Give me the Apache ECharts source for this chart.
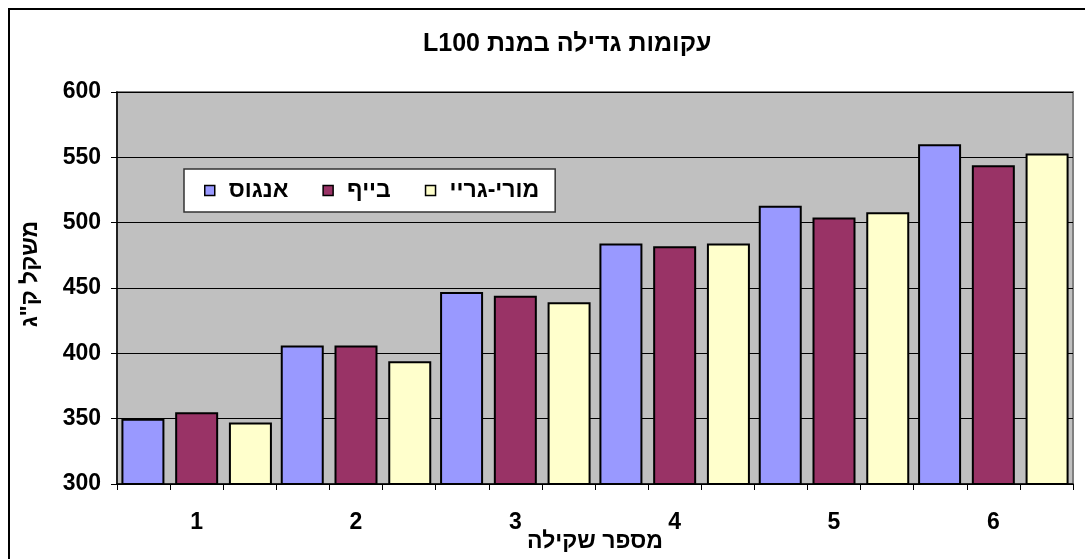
<!DOCTYPE html>
<html>
<head>
<meta charset="utf-8">
<script src="https://cdn.jsdelivr.net/npm/echarts@6/dist/echarts.min.js"></script>
<style>
	html, body { margin: 0; padding: 0; background: #fff; }
	#main { width: 1085px; height: 559px; }
</style>
</head>
<body>
<div id="main" dir="rtl"></div>
<script>
var weighings = ['1', '2', '3', '4', '5', '6'];
var angus = [350, 406, 447, 484, 513, 560];
var beef = [355, 406, 444, 482, 504, 544];
var murray = [347, 394, 439, 484, 508, 553];
var names = ['אנגוס', 'בייף', 'מורי-גריי'];
var colors = ['#9999FF', '#993366', '#FFFFCC'];

var font = '"Liberation Sans", Arial, sans-serif';

function barSeries(idx, data){
	return {
		name: names[idx],
		type: 'bar',
		data: data,
		barWidth: 43,
		barGap: '25%',
		itemStyle: {
			color: colors[idx],
			borderColor: '#000',
			borderWidth: 2
		}
	};
}

var chart = echarts.init(document.getElementById('main'));
var option = {
	animation: false,
	textStyle: { fontFamily: font },
	title: {
		text: 'עקומות גדילה במנת L100',
		left: 418,
		top: 27,
		textStyle: { fontFamily: font, fontSize: 25, fontWeight: 'bold', color: '#000' }
	},
	legend: {
		data: names,
		left: 184,
		top: 169,
		orient: 'horizontal',
		backgroundColor: '#fff',
		borderColor: '#333',
		borderWidth: 1.5,
		padding: [10, 16, 10, 20],
		itemWidth: 10,
		itemHeight: 10,
		itemGap: 34,
		icon: 'rect',
		itemStyle: { borderColor: '#000', borderWidth: 1.5 },
		textStyle: { fontFamily: font, fontSize: 23, fontWeight: 'bold', color: '#000', padding: [0, 0, 0, 9] }
	},
	graphic: [{
		type: 'rect',
		shape: { x: 9, y: 9, width: 1200, height: 700 },
		style: { fill: 'none', stroke: '#000', lineWidth: 2 },
		z: 100
	}],
	grid: {
		left: 117,
		right: 12,
		top: 92,
		bottom: 75,
		outerBoundsMode: 'none',
		containLabel: false,
		show: true,
		backgroundColor: '#C0C0C0',
		borderColor: '#808080',
		borderWidth: 2
	},
	xAxis: [{
		type: 'category',
		data: weighings,
		name: 'מספר שקילה',
		nameLocation: 'middle',
		nameGap: 46,
		nameMoveOverlap: false,
		nameTextStyle: { fontFamily: font, fontSize: 23, fontWeight: 'bold', color: '#000' },
		axisLine: { lineStyle: { color: '#000', width: 1.5 } },
		axisTick: { show: false },
		axisLabel: { margin: 27, fontFamily: font, fontSize: 23, fontWeight: 'bold', color: '#000' }
	}, {
		// ticks at every bar edge, like the original
		type: 'value',
		position: 'bottom',
		min: 0,
		max: 18,
		interval: 1,
		axisLine: { show: false },
		axisTick: { show: true, length: 6, lineStyle: { color: '#000' } },
		axisLabel: { show: false },
		splitLine: { show: false }
	}],
	yAxis: {
		type: 'value',
		min: 300,
		max: 600,
		interval: 50,
		name: 'משקל ק"ג',
		nameLocation: 'middle',
		nameGap: 75,
		nameMoveOverlap: false,
		nameTextStyle: { fontFamily: font, fontSize: 23, fontWeight: 'bold', color: '#000', padding: [0, 0, 0, 28] },
		axisLine: { show: true, lineStyle: { color: '#000', width: 1.5 } },
		axisTick: { show: true, length: 6, lineStyle: { color: '#000' } },
		axisLabel: { margin: 16, fontFamily: font, fontSize: 23, fontWeight: 'bold', color: '#000' },
		splitLine: { lineStyle: { color: '#000', width: 1 } }
	},
	series: [
		barSeries(0, angus),
		barSeries(1, beef),
		barSeries(2, murray)
	]
};
chart.setOption(option);
</script>
</body>
</html>
